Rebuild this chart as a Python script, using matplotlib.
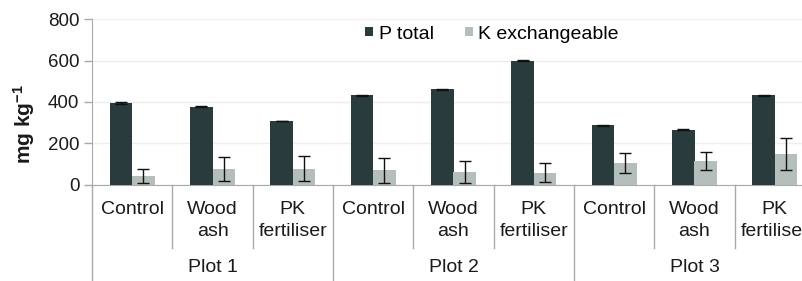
import numpy as np
import matplotlib
matplotlib.use('agg')
import matplotlib.pyplot as plt
import matplotlib.transforms as transforms

plt.rcParams['font.family'] = ['Liberation Sans', 'DejaVu Sans']
plt.rcParams['mathtext.fontset'] = 'custom'
plt.rcParams['mathtext.rm'] = 'Liberation Sans'
plt.rcParams['mathtext.bf'] = 'Liberation Sans:bold'
plt.rcParams['mathtext.default'] = 'regular'

# data
treatments = ['Control', 'Wood\nash', 'PK\nfertiliser'] * 3
plots = ['Plot 1', 'Plot 2', 'Plot 3']
p_total = [395, 377, 308, 432, 462, 600, 287, 266, 432]
p_err = [3, 2, 2, 3, 2, 3, 2, 2, 3]
k_exch = [42, 76, 78, 70, 62, 59, 104, 115, 150]
k_err = [33, 56, 59, 60, 52, 44, 48, 43, 78]

W, H = 802, 281
dark = '#293b3d'
light = '#b4bfbc'
axis_col = '#a9a9a9'
fs = 13.5
txt = '#1a1a1a'

fig = plt.figure(figsize=(W / 100, H / 100), dpi=100)
ax = fig.add_axes([92 / W, 1 - 184.7 / H, 723 / W, 165.4 / H])

x = np.arange(len(p_total))
bw = 0.28
ax.bar(x - bw / 2, p_total, bw, color=dark, label='P total', zorder=3)
ax.bar(x + bw / 2, k_exch, bw, color=light, label='K exchangeable', zorder=3)
ax.errorbar(x - bw / 2, p_total, yerr=p_err, fmt='none', ecolor='#111111',
            elinewidth=1, capsize=4, capthick=1, zorder=4)
ax.errorbar(x + bw / 2, k_exch, yerr=k_err, fmt='none', ecolor='#111111',
            elinewidth=1, capsize=4, capthick=1, zorder=4)

ax.set_xlim(-0.5, 8.5)
ax.set_ylim(0, 800)
ax.set_yticks([0, 200, 400, 600, 800])
ax.yaxis.grid(True, color='#eeeeee', linewidth=1, zorder=0)
ax.set_axisbelow(True)
ax.set_xticks([])
for s in ['top', 'right']:
    ax.spines[s].set_visible(False)
ax.spines['left'].set_color(axis_col)
ax.spines['bottom'].set_color(axis_col)
ax.tick_params(axis='y', colors=axis_col, length=6, width=1, labelcolor=txt,
               labelsize=fs, pad=3)
ax.set_ylabel(r'mg kg$^{-1}$', fontsize=15, fontweight='bold', color=txt)
ax.yaxis.set_label_coords((37 - 92) / 723, (184.7 - 124) / 165.4)

# category axis below
trans = transforms.blended_transform_factory(ax.transData, fig.transFigure)
def fy(ypix):
    return 1 - ypix / H

for i in range(len(treatments) + 1):
    xb = i - 0.5
    bottom = 281 if i % 3 == 0 else 246
    ax.plot([xb, xb], [fy(184.7), fy(bottom + 2)], color=axis_col, lw=1,
            transform=trans, clip_on=False)

for i, t in enumerate(treatments):
    ax.text(i, fy(201), t, transform=trans, ha='center', va='top',
            fontsize=14, linespacing=1.4, color=txt)

for j, p in enumerate(plots):
    ax.text(3 * j + 1, fy(268), p, transform=trans, ha='center', va='center',
            fontsize=14, color=txt)

fig.legend(loc='center', bbox_to_anchor=(492 / W, fy(34)), ncol=2, frameon=False,
           fontsize=14, handlelength=0.4, handleheight=0.4, handletextpad=0.3,
           columnspacing=1.6, borderpad=0)

fig.savefig('out.png', dpi=100)
